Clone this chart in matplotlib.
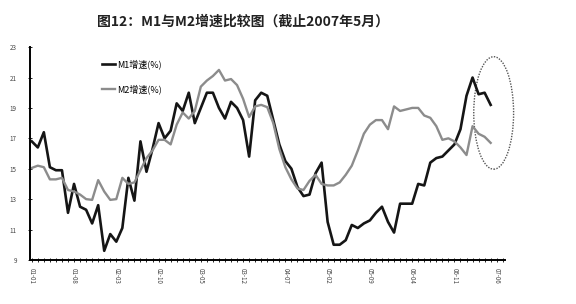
import matplotlib
matplotlib.use("Agg")
import matplotlib.pyplot as plt
from matplotlib.patches import Ellipse

plt.rcParams['font.family'] = ['Noto Sans CJK SC', 'DejaVu Sans']

# monthly data, 2001-01 .. 2007-05
m1 = [16.8, 16.4, 17.4, 15.1, 14.9, 14.9, 12.1, 14.0, 12.5, 12.3,
      11.4, 12.6, 9.6, 10.7, 10.2, 11.1, 14.4, 12.9, 16.8, 14.8,
      16.3, 18.0, 17.0, 17.5, 19.3, 18.8, 20.0, 18.0, 19.0, 20.0,
      20.0, 19.0, 18.3, 19.4, 19.0, 18.2, 15.8, 19.5, 20.0, 19.8,
      18.2, 16.6, 15.5, 15.0, 13.8, 13.2, 13.3, 14.7, 15.4, 11.5,
      10.0, 10.0, 10.3, 11.3, 11.1, 11.4, 11.6, 12.1, 12.5, 11.5,
      10.8, 12.7, 12.7, 12.7, 14.0, 13.9, 15.4, 15.7, 15.8, 16.2,
      16.6, 17.6, 19.8, 21.0, 19.9, 20.0, 19.2]
m2 = [15.05, 15.2, 15.1, 14.3, 14.3, 14.4, 13.6, 13.5, 13.3, 13.0,
      12.95, 14.25, 13.5, 12.95, 13.0, 14.4, 14.0, 14.1, 14.9, 15.7,
      16.2, 16.9, 16.9, 16.6, 17.9, 18.7, 18.3, 18.8, 20.4, 20.8,
      21.1, 21.5, 20.8, 20.9, 20.5, 19.6, 18.4, 19.1, 19.2, 19.05,
      18.0, 16.3, 15.1, 14.3, 13.7, 13.6, 14.2, 14.6, 14.0, 13.9,
      13.9, 14.1, 14.6, 15.2, 16.2, 17.3, 17.9, 18.2, 18.2, 17.6,
      19.1, 18.8, 18.9, 19.0, 19.0, 18.5, 18.35, 17.8, 16.9, 17.0,
      16.8, 16.4, 15.9, 17.8, 17.3, 17.1, 16.7]
xlabels = ['01-01', '01-08', '02-03', '02-10', '03-05', '03-12',
           '04-07', '05-02', '05-09', '06-04', '06-11', '07-06']
yticks = [9, 11, 13, 15, 17, 19, 21, 23]

fig = plt.figure(figsize=(5.76, 3.04), dpi=100)
ax = fig.add_axes([0.052, 0.145, 0.825, 0.70])

x = list(range(len(m1)))
ax.plot(x, m1, color='#151515', lw=1.9, label='M1增速(%)', solid_joinstyle='round')
ax.plot(x, m2, color='#8c8c8c', lw=1.7, label='M2增速(%)', solid_joinstyle='round')

ax.set_xlim(-0.3, 78.4)
ax.set_ylim(9, 23)
ax.set_yticks(yticks)
ax.set_yticklabels([str(v) for v in yticks], fontsize=4.5, color='#444444')
ax.set_xticks([i * 7 for i in range(len(xlabels))])
ax.set_xticklabels(xlabels, rotation=270, fontsize=4.5, color='#444444')
ax.set_xticks(range(0, 79), minor=True)
ax.tick_params(axis='x', which='both', direction='inout', length=3, width=0.6, pad=4)
ax.tick_params(axis='y', direction='inout', length=3, width=0.6, pad=8)

for s in ['top', 'right']:
    ax.spines[s].set_visible(False)
ax.spines['left'].set_linewidth(1.4)
ax.spines['bottom'].set_linewidth(1.4)

ax.legend(loc='upper left', bbox_to_anchor=(0.135, 0.98), frameon=False,
          fontsize=6.5, handlelength=1.4, handletextpad=0.2, labelspacing=1.7)

# dotted ellipse round the last months
ax.add_patch(Ellipse((76.5, 18.67), 6.6, 7.4, fill=False, ls=(0, (1, 1)),
                     lw=1.0, edgecolor='#555555', clip_on=False))

fig.text(0.422, 0.93, '图12：M1与M2增速比较图（截止2007年5月）', ha='center',
         va='center', fontsize=10, fontweight='bold', color='#222222')

fig.savefig('out.png', dpi=100)
